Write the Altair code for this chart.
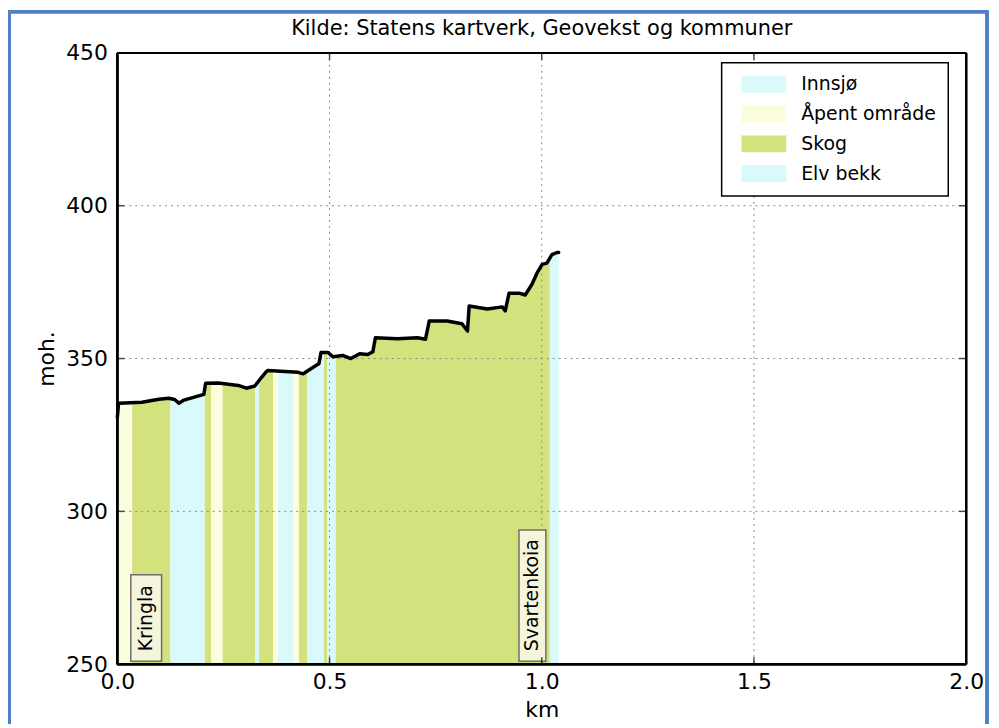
import altair as alt
import pandas as pd

# ---- data ----
profile_km = [0.000, 0.003, 0.058, 0.098, 0.121, 0.135, 0.145, 0.157, 0.204, 0.208,
              0.238, 0.285, 0.304, 0.324, 0.339, 0.351, 0.355, 0.426, 0.438, 0.468,
              0.475, 0.480, 0.496, 0.508, 0.531, 0.550, 0.571, 0.590, 0.602, 0.608,
              0.660, 0.707, 0.726, 0.735, 0.777, 0.812, 0.825, 0.829, 0.872, 0.907,
              0.914, 0.923, 0.947, 0.961, 0.977, 0.989, 1.001, 1.012, 1.024, 1.036, 1.040]
profile_moh = [330.8, 335.4, 335.7, 336.7, 337.0, 336.6, 335.4, 336.4, 338.3, 341.9,
               342.0, 341.2, 340.3, 341.0, 343.7, 345.7, 346.1, 345.5, 345.0, 347.7,
               348.3, 352.0, 352.0, 350.6, 351.0, 350.0, 351.6, 351.3, 352.2, 356.8,
               356.5, 356.8, 356.3, 362.3, 362.3, 361.4, 359.0, 367.2, 366.2, 366.9,
               365.6, 371.4, 371.4, 370.8, 374.3, 378.0, 380.8, 381.2, 384.0, 384.7, 384.7]

band_start = [0.000, 0.035, 0.125, 0.206, 0.221, 0.248, 0.325, 0.334, 0.367, 0.379,
              0.414, 0.428, 0.447, 0.487, 0.494, 0.515, 1.019]
band_end = [0.035, 0.125, 0.206, 0.221, 0.248, 0.325, 0.334, 0.367, 0.379, 0.414,
            0.428, 0.447, 0.487, 0.494, 0.515, 1.019, 1.040]
band_type = ["Åpent område", "Skog", "Innsjø", "Skog", "Åpent område", "Skog", "Elv bekk",
             "Skog", "Åpent område", "Innsjø", "Åpent område", "Skog", "Innsjø", "Skog",
             "Elv bekk", "Skog", "Elv bekk"]

categories = ["Innsjø", "Åpent område", "Skog", "Elv bekk"]
category_colors = ["#d9f9fb", "#fcfcdf", "#d3e27c", "#d9f9fb"]

place_names = ["Kringla", "Svartenkoia"]
place_km = [0.068, 0.978]

x_ticks = [0.0, 0.5, 1.0, 1.5, 2.0]
y_ticks = [250, 300, 350, 400, 450]

title_text = "Kilde: Statens kartverk, Geovekst og kommuner"

# ---- styling ----
FONT = "DejaVu Sans"
W, H = 854, 615
box_style = {"Kringla": (31, 87), "Svartenkoia": (27, 132)}
BOX_GAP = 3

profile = pd.DataFrame({"km": profile_km, "moh": profile_moh})
bands = pd.DataFrame({"start": band_start, "end": band_end, "type": band_type})
places = pd.DataFrame({"name": place_names, "km": place_km, "moh": [250] * len(place_names)})
xt = pd.DataFrame({"v": x_ticks})
yt = pd.DataFrame({"v": y_ticks})

xscale = alt.Scale(domain=[0, 2], nice=False, zero=False)
yscale = alt.Scale(domain=[250, 450], nice=False, zero=False)

xaxis = alt.Axis(values=x_ticks, format=".1f", title="km", grid=False, ticks=False,
                 domain=False, labelFontSize=22, titleFontSize=22, labelPadding=7,
                 titlePadding=8, labelFont=FONT, titleFont=FONT, labelColor="black",
                 titleColor="black", titleFontWeight="normal", labelFlush=False)
yaxis = alt.Axis(values=y_ticks, format="d", title="moh.", grid=False, ticks=False,
                 domain=False, labelFontSize=22, titleFontSize=22, labelPadding=10,
                 titlePadding=7, labelFont=FONT, titleFont=FONT, labelColor="black",
                 titleColor="black", titleFontWeight="normal", labelFlush=False)

band_layer = alt.Chart(bands).mark_rect().encode(
    x=alt.X("start:Q", scale=xscale, axis=xaxis),
    x2="end:Q",
    color=alt.Color(
        "type:N",
        scale=alt.Scale(domain=categories, range=category_colors),
        legend=alt.Legend(
            title=None, orient="none", legendX=608, legendY=10,
            symbolType="M-2.65,-1H2.65V1H-2.65Z", symbolSize=289,
            symbolStrokeWidth=0, symbolOpacity=1, symbolOffset=21,
            labelFontSize=19, labelFont=FONT, labelColor="black", labelOffset=28,
            rowPadding=10, padding=12, strokeColor="black",
            fillColor="white", cornerRadius=0,
        ),
    ),
)

# white mask above the profile so the land-cover bands stop at the terrain line
mask_layer = alt.Chart(profile).mark_area(color="white", opacity=1).encode(
    x=alt.X("km:Q", scale=xscale, axis=xaxis),
    y=alt.Y("moh:Q", scale=yscale, axis=yaxis),
    y2=alt.datum(450),
)

grid_x = alt.Chart(xt).mark_rule(color="#8a8a8a", strokeDash=[2, 4], strokeWidth=1).encode(
    x=alt.X("v:Q", scale=xscale, axis=xaxis))
grid_y = alt.Chart(yt).mark_rule(color="#8a8a8a", strokeDash=[2, 4], strokeWidth=1).encode(
    y=alt.Y("v:Q", scale=yscale, axis=yaxis))

line_layer = alt.Chart(profile).mark_line(color="black", strokeWidth=3.5,
                                          strokeJoin="round", strokeCap="round").encode(
    x=alt.X("km:Q", scale=xscale, axis=xaxis),
    y=alt.Y("moh:Q", scale=yscale, axis=yaxis),
)

place_layers = []
for name in place_names:
    w, h = box_style[name]
    r = w / h
    shape = f"M{-r:.4f},-1H{r:.4f}V1H{-r:.4f}Z"
    box = alt.Chart(places).transform_filter(alt.datum.name == name).mark_point(
        shape=shape, size=h * h, filled=True, fill="#f4f5da", stroke="#6e6e6e",
        strokeWidth=1.5, opacity=1, yOffset=-(BOX_GAP + h / 2),
    ).encode(
        x=alt.X("km:Q", scale=xscale, axis=xaxis),
        y=alt.Y("moh:Q", scale=yscale, axis=yaxis),
    )
    txt = alt.Chart(places).transform_filter(alt.datum.name == name).mark_text(
        angle=270, align="left", baseline="middle", dx=BOX_GAP + 10, fontSize=19,
        font=FONT, color="black",
    ).encode(
        x=alt.X("km:Q", scale=xscale, axis=xaxis),
        y=alt.Y("moh:Q", scale=yscale, axis=yaxis),
        text="name:N",
    )
    place_layers += [box, txt]

frame_style = dict(color="black", strokeWidth=2)
frame = [
    alt.Chart(xt).mark_rule(**frame_style).encode(x=alt.datum(x_ticks[0])),
    alt.Chart(xt).mark_rule(**frame_style).encode(x=alt.datum(x_ticks[-1])),
    alt.Chart(yt).mark_rule(**frame_style).encode(y=alt.datum(y_ticks[0])),
    alt.Chart(yt).mark_rule(**frame_style).encode(y=alt.datum(y_ticks[-1])),
]

tick_style = dict(color="black", thickness=1.5, size=7)
ticks = [
    alt.Chart(xt).mark_tick(orient="vertical", yOffset=-3.5, **tick_style).encode(
        x=alt.X("v:Q", scale=xscale, axis=xaxis), y=alt.datum(y_ticks[0])),
    alt.Chart(xt).mark_tick(orient="vertical", yOffset=3.5, **tick_style).encode(
        x=alt.X("v:Q", scale=xscale, axis=xaxis), y=alt.datum(y_ticks[-1])),
    alt.Chart(yt).mark_tick(orient="horizontal", xOffset=3.5, **tick_style).encode(
        y=alt.Y("v:Q", scale=yscale, axis=yaxis), x=alt.datum(x_ticks[0])),
    alt.Chart(yt).mark_tick(orient="horizontal", xOffset=-3.5, **tick_style).encode(
        y=alt.Y("v:Q", scale=yscale, axis=yaxis), x=alt.datum(x_ticks[-1])),
]

# screenshot window border around the figure (decoration)
window = alt.Chart(xt).mark_rect(fill=None, stroke="#4f81c7", strokeWidth=3, clip=False).encode(
    x=alt.value(-108.5), x2=alt.value(875), y=alt.value(-41.5), y2=alt.value(H + 100),
)

chart = alt.layer(
    band_layer, mask_layer, grid_x, grid_y, line_layer, *place_layers, *frame, *ticks, window
).properties(
    width=W, height=H,
    title=alt.TitleParams(title_text, fontSize=21, font=FONT, fontWeight="normal",
                          anchor="middle", offset=14, dy=43, color="black", frame="group"),
    autosize=alt.AutoSizeParams(type="none"),
    padding={"left": 110, "top": 43, "right": 25, "bottom": 58},
).configure_view(stroke=None).configure(background="white").configure_legend(strokeWidth=1.5)

chart.save("out.html", embed_options={"renderer": "svg", "actions": False})
